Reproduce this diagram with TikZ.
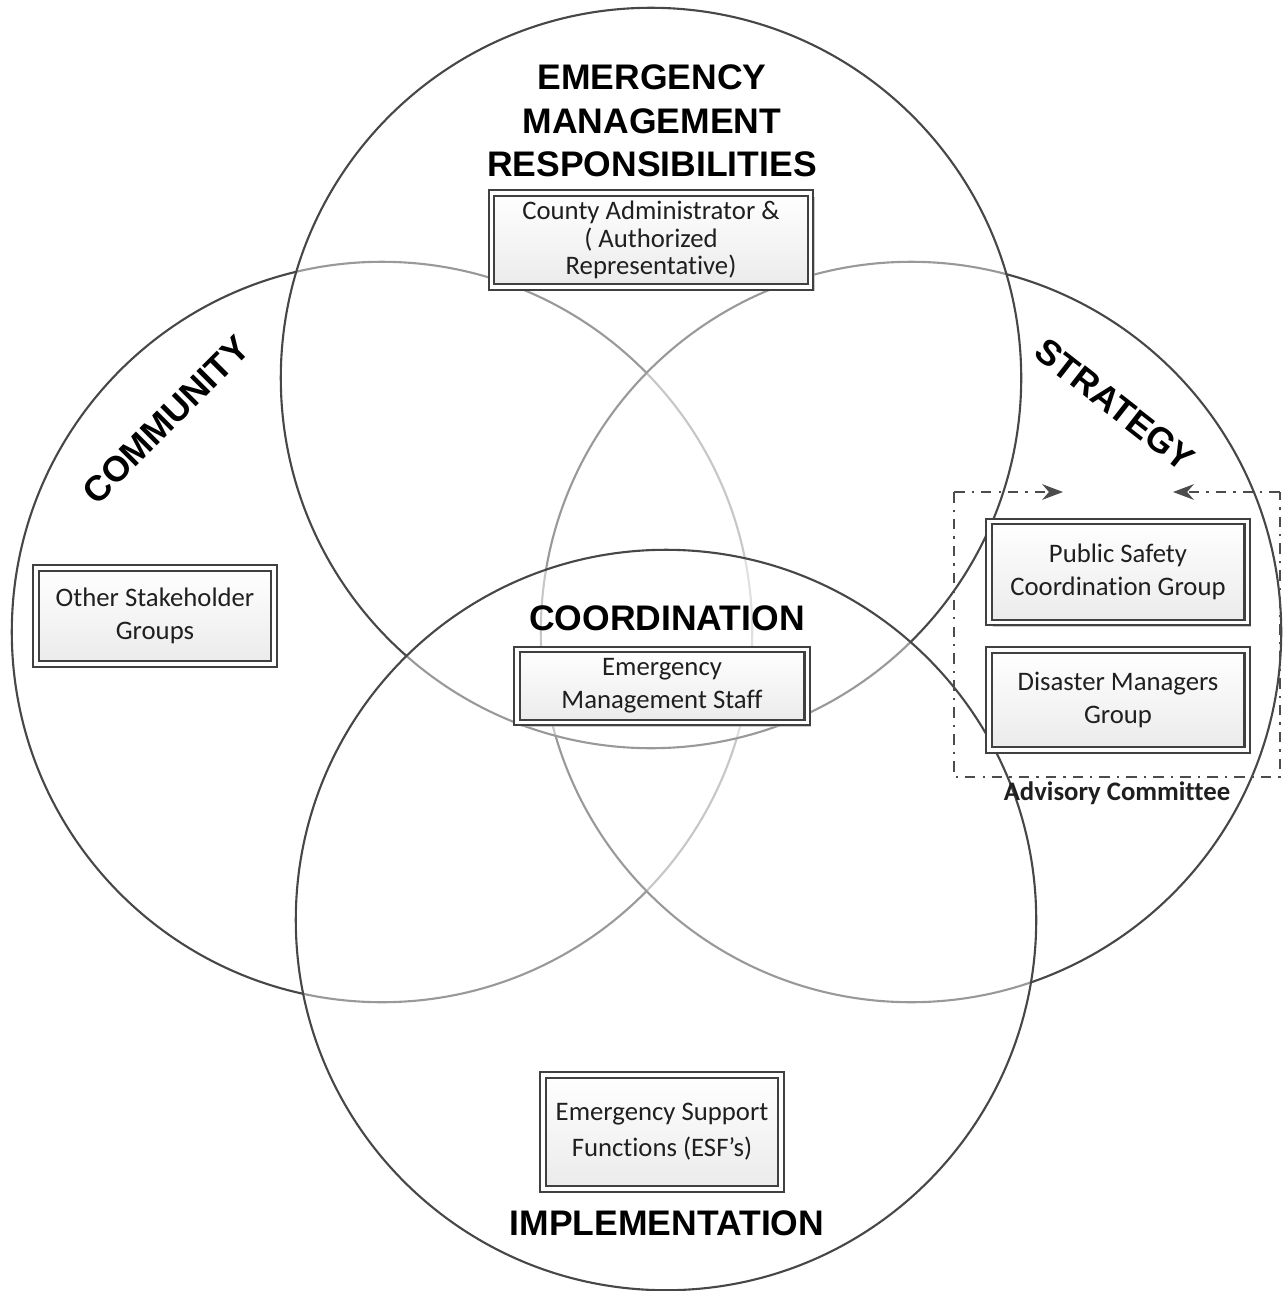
\documentclass[tikz,border=0pt]{standalone}
\usepackage{fontspec}
\setmainfont{Carlito}[Ligatures=NoCommon]
\newfontfamily\headfont{Liberation Sans}
\usetikzlibrary{arrows.meta,shadows}
\tikzset{>=Stealth}
\tikzset{%
    ring/.style={draw=black!72, line width=0.6pt, fill=white, fill opacity=0.45},
    heading/.style={font=\headfont\bfseries\fontsize{10.1}{12.4}\selectfont, align=center, inner sep=0pt},
    groupbox/.style={draw=black!75, line width=0.6pt, double=white, double distance=0.9pt,
        top color=white, bottom color=black!8,
        drop shadow={shadow xshift=1.2pt, shadow yshift=-1.2pt, fill=black!35, opacity=0.6},
        text=black!88, align=center, inner sep=1pt, font=\fontsize{7.6}{9.3}\selectfont},
    advframe/.style={draw=black!70, line width=0.65pt, dash dot}
}

\begin{document}
\begin{tikzpicture}[x=0.01cm, y=-0.01cm]
\useasboundingbox (0,0) rectangle (1283,1291);
\draw[ring] (382,632) circle [radius=3.7cm];
\draw[ring] (911,632) circle [radius=3.7cm];
\draw[ring] (651,378) circle [radius=3.7cm];
\draw[ring] (666,920) circle [radius=3.7cm];

\node[heading] (emHead) at (652,121) {EMERGENCY\\MANAGEMENT\\RESPONSIBILITIES};
\node[heading] (coordHead) at (667,618) {COORDINATION};
\node[heading] (implHead) at (667,1223) {IMPLEMENTATION};
\node[heading, rotate=45] (communityHead) at (166,420) {COMMUNITY};
\node[heading, rotate=-38] (strategyHead) at (1115,405) {STRATEGY};

\node[groupbox, minimum width=3.19cm, minimum height=0.94cm, font=\fontsize{7.6}{7.8}\selectfont] (countyBox) at (651,240) {County Administrator \&\\( Authorized\\Representative)};
\node[groupbox, minimum width=2.38cm, minimum height=0.96cm] (stakeBox) at (155,616) {Other Stakeholder\\Groups};
\node[groupbox, minimum width=2.90cm, minimum height=0.73cm] (staffBox) at (662,686) {Emergency\\Management Staff};
\node[groupbox, minimum width=2.38cm, minimum height=1.14cm, font=\fontsize{7.6}{10.2}\selectfont] (esfBox) at (662,1132) {Emergency Support\\Functions (ESF’s)};
\node[groupbox, minimum width=2.58cm, minimum height=1.01cm] (safetyBox) at (1118,572) {Public Safety\\Coordination Group};
\node[groupbox, minimum width=2.58cm, minimum height=1.00cm] (disasterBox) at (1118,700) {Disaster Managers\\Group};

\coordinate (advNW) at (954,492);
\coordinate (advNE) at (1280,492);
\coordinate (advSW) at (954,777);
\coordinate (advSE) at (1280,777);
\coordinate (advTipL) at (1063,492);
\coordinate (advTipR) at (1173,492);
\draw[advframe] (advNW) -- (advSW) -- (advSE) -- (advNE);
\draw[advframe, ->] (advNW) -- (advTipL);
\draw[advframe, ->] (advNE) -- (advTipR);
\node[font=\bfseries\fontsize{7.6}{9}\selectfont, text=black!88] (advLabel) at (1117,793) {Advisory Committee};
\end{tikzpicture}
\end{document}
